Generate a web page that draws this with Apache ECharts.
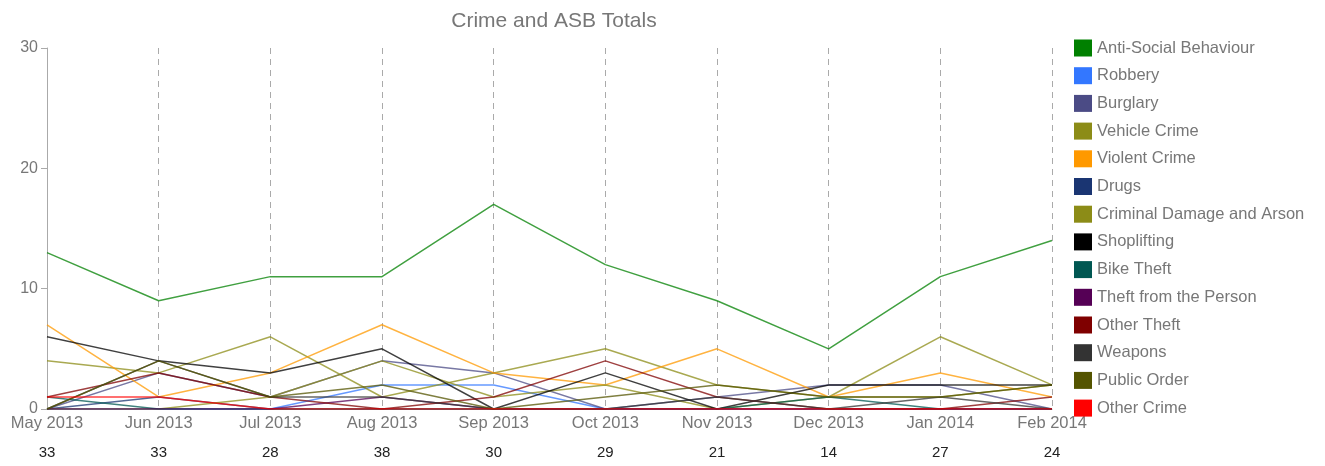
<!DOCTYPE html>
<html>
<head>
<meta charset="utf-8">
<script src="https://cdn.jsdelivr.net/npm/echarts@6/dist/echarts.min.js"></script>
<style>html,body{margin:0;padding:0;background:#fff}#c{width:1325px;height:466px}</style>
</head>
<body>
<div id="c"></div>
<script>
var months = ['May 2013','Jun 2013','Jul 2013','Aug 2013','Sep 2013','Oct 2013','Nov 2013','Dec 2013','Jan 2014','Feb 2014'];
var totals = ['33','33','28','38','30','29','21','14','27','24'];
var yTicks = [0, 10, 20, 30];

var antiSocial      = [13, 9, 11, 11, 17, 12, 9, 5, 11, 14];
var robbery         = [0, 0, 0, 2, 2, 0, 0, 0, 0, 0];
var burglary        = [0, 3, 1, 4, 3, 0, 1, 2, 2, 0];
var vehicleCrime    = [4, 3, 6, 1, 3, 5, 2, 1, 6, 2];
var violentCrime    = [7, 1, 3, 7, 3, 2, 5, 1, 3, 1];
var drugs           = [0, 1, 0, 0, 0, 0, 0, 0, 0, 0];
var criminalDamage  = [0, 0, 1, 4, 1, 2, 0, 1, 1, 2];
var shoplifting     = [6, 4, 3, 5, 0, 3, 0, 2, 2, 2];
var bikeTheft       = [1, 0, 0, 0, 0, 0, 0, 1, 0, 0];
var theftFromPerson = [0, 0, 0, 1, 0, 0, 0, 0, 0, 0];
var otherTheft      = [1, 3, 1, 0, 1, 4, 1, 0, 0, 1];
var weapons         = [0, 4, 1, 1, 0, 0, 1, 0, 1, 0];
var publicOrder     = [0, 4, 1, 2, 0, 1, 2, 1, 1, 2];
var otherCrime      = [1, 1, 0, 0, 0, 0, 0, 0, 0, 0];

var seriesDefs = [
  ['Anti-Social Behaviour', antiSocial, '#008000'],
  ['Robbery', robbery, '#3377FF'],
  ['Burglary', burglary, '#4B4B85'],
  ['Vehicle Crime', vehicleCrime, '#8C8C17'],
  ['Violent Crime', violentCrime, '#FF9900'],
  ['Drugs', drugs, '#1A3572'],
  ['Criminal Damage and Arson', criminalDamage, '#8C8C17'],
  ['Shoplifting', shoplifting, '#000000'],
  ['Bike Theft', bikeTheft, '#005752'],
  ['Theft from the Person', theftFromPerson, '#550055'],
  ['Other Theft', otherTheft, '#7F0000'],
  ['Weapons', weapons, '#333333'],
  ['Public Order', publicOrder, '#545400'],
  ['Other Crime', otherCrime, '#FF0000']
];

var FONT = '"Liberation Sans", Arial, sans-serif';

var chart = echarts.init(document.getElementById('c'), null, {renderer: 'canvas'});
chart.setOption({
  animation: false,
  title: {
    text: 'Crime and ASB Totals',
    left: 549, top: 6, textAlign: 'center',
    textStyle: {fontFamily: FONT, fontSize: 21, fontWeight: 'normal', color: '#777'}
  },
  legend: {
    orient: 'vertical', left: 1069, top: 34.5,
    itemWidth: 18, itemHeight: 17, itemGap: 10.7,
    icon: 'rect',
    textStyle: {fontFamily: FONT, fontSize: 16.5, color: '#777'},
    data: seriesDefs.map(function (d) { return d[0]; })
  },
  grid: {left: 47, top: 48, width: 1005, height: 361, containLabel: false},
  xAxis: [{
    type: 'category', data: months, boundaryGap: false,
    axisLine: {show: true, lineStyle: {color: '#aaa', width: 1}},
    axisTick: {show: false},
    axisLabel: {fontFamily: FONT, fontSize: 16.5, color: '#777', margin: 6, interval: 0},
    splitLine: {show: true, lineStyle: {color: '#aaa', type: [6, 5], width: 1}}
  }, {
    type: 'category', data: totals, boundaryGap: false, position: 'bottom', offset: 30,
    axisLine: {show: false}, axisTick: {show: false},
    axisLabel: {fontFamily: FONT, fontSize: 15, color: '#222', margin: 6, interval: 0},
    splitLine: {show: false}
  }],
  yAxis: {
    type: 'value', min: yTicks[0], max: yTicks[yTicks.length - 1], interval: 10,
    axisLine: {show: true, lineStyle: {color: '#aaa', width: 1}},
    axisTick: {show: true, length: 6, lineStyle: {color: '#aaa'}},
    axisLabel: {fontFamily: FONT, fontSize: 16, color: '#777', margin: 9},
    splitLine: {show: false}
  },
  series: seriesDefs.map(function (d) {
    return {
      name: d[0], type: 'line', data: d[1], xAxisIndex: 0,
      showSymbol: false, symbol: 'none', smooth: false,
      color: d[2],
      itemStyle: {color: d[2]},
      lineStyle: {color: d[2], width: 1.5, opacity: 0.75},
      emphasis: {disabled: true}
    };
  })
});
</script>
</body>
</html>
